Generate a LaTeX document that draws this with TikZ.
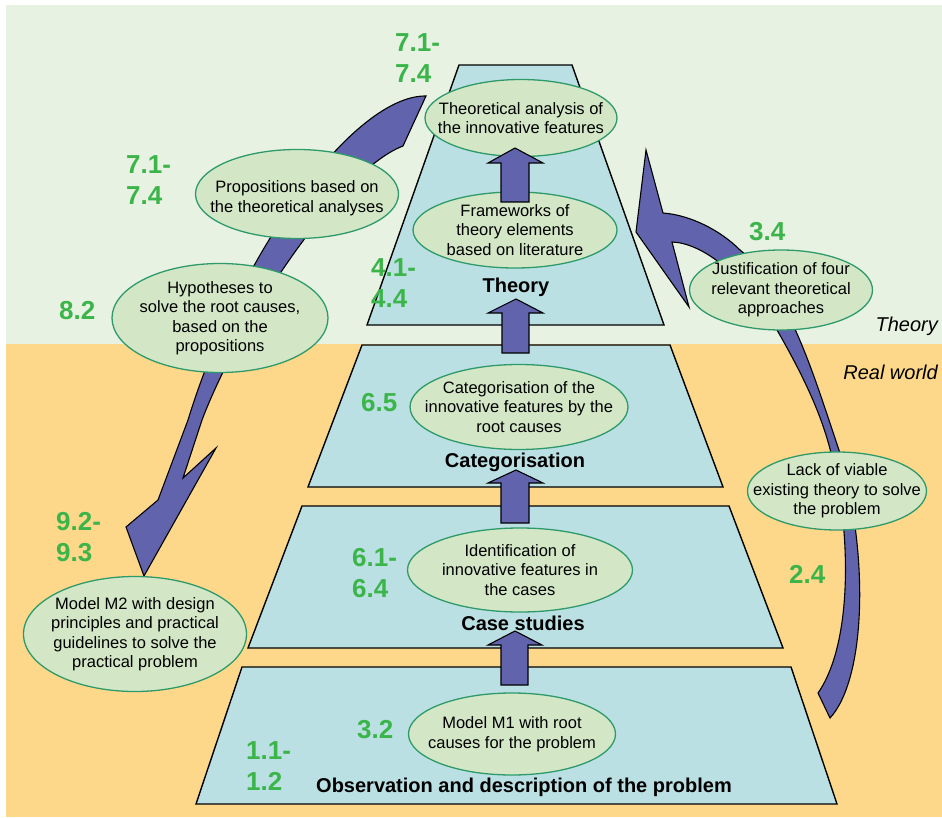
\documentclass[tikz,border=0pt]{standalone}
\usepackage{fontspec}
\setmainfont{Liberation Sans}
\usetikzlibrary{shapes.geometric}
\definecolor{theorybg}{HTML}{E8F2E2}
\definecolor{realbg}{HTML}{FDD88A}
\definecolor{levelfill}{HTML}{BAE0E3}
\definecolor{bubblefill}{HTML}{D3E7C7}
\definecolor{bubbleline}{HTML}{2E9A6A}
\definecolor{arrowfill}{HTML}{6164AD}
\definecolor{refgreen}{HTML}{3BB54A}
\begin{document}
\begin{tikzpicture}[x=1pt,y=-1pt,
    level/.style={draw=black,line width=1.4pt,fill=levelfill},
    bubble/.style={ellipse,draw=bubbleline,line width=1.3pt,fill=bubblefill,inner sep=0pt},
    bubbletext/.style={inner sep=0pt,align=center,font=\fontsize{16.5}{19.5}\selectfont},
    band/.style={draw=black,line width=1.1pt,fill=arrowfill,line join=miter},
    refnum/.style={anchor=west,inner sep=0pt,align=left,text=refgreen,
        font=\fontsize{26}{31.5}\selectfont\bfseries},
    levelname/.style={anchor=base,inner sep=0pt,font=\fontsize{20}{24}\selectfont\bfseries},
    world/.style={anchor=base east,inner sep=0pt,font=\fontsize{20}{24}\selectfont\itshape}]

        \useasboundingbox (0,0) rectangle (942,818);
        \fill[white] (0,0) rectangle (942,818);
        \fill[theorybg] (6,5) rectangle (942,344);
        \fill[realbg] (6,344) rectangle (942,817);

        \draw[level] (459,65) -- (572,65) -- (664,325) -- (367,325) -- cycle;
        \draw[level] (362,345) -- (670,345) -- (723,487) -- (308,487) -- cycle;
        \draw[level] (302,506) -- (729,506) -- (783,648) -- (248,648) -- cycle;
        \draw[level] (242,667) -- (791,667) -- (837,804) -- (196,804) -- cycle;

        \draw[band] (426,96) .. controls (355,95) and (240,250) .. (188,420) -- (158,500)
            -- (126,527) -- (144,576) -- (216,448) -- (183,478) -- (202,420)
            .. controls (240,320) and (340,170) .. (403,146) -- cycle;
        \draw[band] (830,718) .. controls (865,680) and (870,560) .. (840,453)
            .. controls (815,380) and (790,290) .. (740,250)
            .. controls (720,230) and (690,215) .. (663,213) -- (646,150) -- (636,232)
            -- (689,307) -- (672,242) .. controls (700,243) and (740,270) .. (777,330)
            .. controls (800,370) and (820,410) .. (830,449)
            .. controls (850,520) and (855,640) .. (818,693) -- cycle;

        \node[bubble,minimum width=192,minimum height=77] (theoana) at (521,118) {};
        \node[bubble,minimum width=204,minimum height=76] (frame) at (515,230) {};
        \node[bubble,minimum width=203,minimum height=89] (props) at (297,194) {};
        \node[bubble,minimum width=216,minimum height=109] (hypo) at (220,318) {};
        \node[bubble,minimum width=183,minimum height=80] (justif) at (781,290) {};
        \node[bubble,minimum width=218,minimum height=85] (categ) at (519,407) {};
        \node[bubble,minimum width=179,minimum height=78] (lack) at (837,491) {};
        \node[bubble,minimum width=225,minimum height=84] (ident) at (520,570) {};
        \node[bubble,minimum width=223,minimum height=115] (mtwo) at (135,634) {};
        \node[bubble,minimum width=207,minimum height=82] (mone) at (512,734) {};

        \node[bubbletext] (theoanatext) at (theoana) {Theoretical analysis of\\the innovative features};
        \node[bubbletext] (frametext) at (frame) {Frameworks of\\theory elements\\based on literature};
        \node[bubbletext] (propstext) at ([yshift=-4]props) {Propositions based on\\the theoretical analyses};
        \node[bubbletext] (hypotext) at (hypo) {Hypotheses to\\solve the root causes,\\based on the\\propositions};
        \node[bubbletext] (justiftext) at (justif) {Justification of four\\relevant theoretical\\approaches};
        \node[bubbletext] (categtext) at (categ) {Categorisation of the\\innovative features by the\\root causes};
        \node[bubbletext] (lacktext) at (lack) {Lack of viable\\existing theory to solve\\the problem};
        \node[bubbletext] (identtext) at (ident) {Identification of\\innovative features in\\the cases};
        \node[bubbletext] (mtwotext) at (mtwo) {Model M2 with design\\principles and practical\\guidelines to solve the\\practical problem};
        \node[bubbletext] (monetext) at (mone) {Model M1 with root\\causes for the problem};

        \draw[band] (501,202) -- (501,163) -- (488,163) -- (515,148) -- (543,163) -- (529,163) -- (529,202) -- cycle;
        \draw[band] (502,353) -- (502,313) -- (488,313) -- (516,299) -- (543,313) -- (529,313) -- (529,353) -- cycle;
        \draw[band] (501,523) -- (501,483) -- (488,483) -- (516,470) -- (543,483) -- (529,483) -- (529,523) -- cycle;
        \draw[band] (501,685) -- (501,645) -- (488,645) -- (515,631) -- (542,645) -- (528,645) -- (528,685) -- cycle;

        \node[levelname] (theorylbl) at (516,293) {Theory};
        \node[levelname] (categlbl) at (515,467) {Categorisation};
        \node[levelname] (caselbl) at (523,630) {Case studies};
        \node[levelname] (obslbl) at (524,792) {Observation and description of the problem};

        \node[refnum] (rtheo) at (395,58) {7.1-\\7.4};
        \node[refnum] (rprops) at (126,180) {7.1-\\7.4};
        \node[refnum] (rframe) at (371,283) {4.1-\\4.4};
        \node[refnum] (rhypo) at (59,311) {8.2};
        \node[refnum] (rjust) at (749,232) {3.4};
        \node[refnum] (rcateg) at (361,403) {6.5};
        \node[refnum] (rmtwo) at (56,537) {9.2-\\9.3};
        \node[refnum] (rident) at (352,573) {6.1-\\6.4};
        \node[refnum] (rlack) at (789,574) {2.4};
        \node[refnum] (rmone) at (357,730) {3.2};
        \node[refnum] (robs) at (246,766) {1.1-\\1.2};

        \node[world] (theoryzone) at (938,331) {Theory};
        \node[world] (realzone) at (938,379) {Real world};

    \end{tikzpicture}
\end{document}
